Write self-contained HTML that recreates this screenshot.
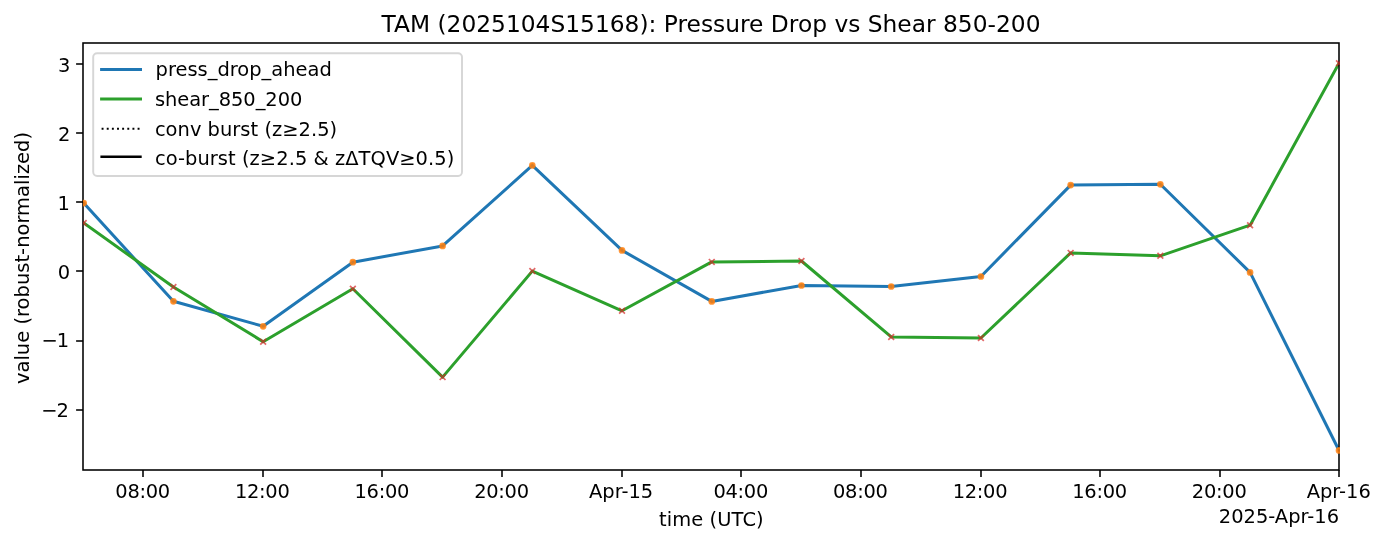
<!DOCTYPE html>
<html><head><meta charset="utf-8"><title>TAM chart</title>
<style>
html,body{margin:0;padding:0;background:#fff;}
body{width:1385px;height:543px;overflow:hidden;}
svg{display:block;}
text{font-family:"DejaVu Sans","Liberation Sans",sans-serif;fill:#000;}
.t{font-size:19.44px;}
.tt{font-size:23.33px;}
.xt{letter-spacing:-0.28px;}
</style></head><body>
<svg width="1385" height="543" viewBox="0 0 1385 543">
<rect width="1385" height="543" fill="#fff"/>
<defs><clipPath id="ax"><rect x="82.9" y="42.9" width="1257.0" height="427.1"/></clipPath></defs>
<g clip-path="url(#ax)">
<polyline points="83.70,203.10 173.42,301.30 263.14,326.30 352.86,262.20 442.59,245.90 532.31,165.40 622.03,250.40 711.75,301.40 801.47,285.50 891.19,286.50 980.91,276.50 1070.64,185.10 1160.36,184.30 1250.08,272.40 1339.00,450.40" fill="none" stroke="#1f77b4" stroke-width="3.0" stroke-linejoin="round" stroke-linecap="square"/>
<polyline points="83.70,223.00 173.42,287.00 263.14,341.70 352.86,288.70 442.59,377.10 532.31,271.10 622.03,310.80 711.75,261.90 801.47,261.00 891.19,336.95 980.91,338.00 1070.64,252.90 1160.36,255.80 1250.08,225.20 1339.00,63.20" fill="none" stroke="#2ca02c" stroke-width="3.0" stroke-linejoin="round" stroke-linecap="square"/>
</g>
<g stroke="#000" stroke-width="1.56" fill="none">
<path d="M76.10 410H83.0"/>
<path d="M76.10 341H83.0"/>
<path d="M76.10 271H83.0"/>
<path d="M76.10 202H83.0"/>
<path d="M76.10 133H83.0"/>
<path d="M76.10 64H83.0"/>
<path d="M143 470.0V476.90"/>
<path d="M263 470.0V476.90"/>
<path d="M382 470.0V476.90"/>
<path d="M502 470.0V476.90"/>
<path d="M622 470.0V476.90"/>
<path d="M741 470.0V476.90"/>
<path d="M861 470.0V476.90"/>
<path d="M981 470.0V476.90"/>
<path d="M1100 470.0V476.90"/>
<path d="M1220 470.0V476.90"/>
<path d="M1339 470.0V476.90"/>
</g>
<rect x="83.0" y="43.0" width="1256.0" height="427.0" fill="none" stroke="#000" stroke-width="1.56"/>
<g clip-path="url(#ax)">
<circle cx="83.70" cy="203.10" r="2.4" fill="#ff7f0e" fill-opacity="0.8" stroke="#ff7f0e" stroke-opacity="0.8" stroke-width="1.9"/>
<circle cx="173.42" cy="301.30" r="2.4" fill="#ff7f0e" fill-opacity="0.8" stroke="#ff7f0e" stroke-opacity="0.8" stroke-width="1.9"/>
<circle cx="263.14" cy="326.30" r="2.4" fill="#ff7f0e" fill-opacity="0.8" stroke="#ff7f0e" stroke-opacity="0.8" stroke-width="1.9"/>
<circle cx="352.86" cy="262.20" r="2.4" fill="#ff7f0e" fill-opacity="0.8" stroke="#ff7f0e" stroke-opacity="0.8" stroke-width="1.9"/>
<circle cx="442.59" cy="245.90" r="2.4" fill="#ff7f0e" fill-opacity="0.8" stroke="#ff7f0e" stroke-opacity="0.8" stroke-width="1.9"/>
<circle cx="532.31" cy="165.40" r="2.4" fill="#ff7f0e" fill-opacity="0.8" stroke="#ff7f0e" stroke-opacity="0.8" stroke-width="1.9"/>
<circle cx="622.03" cy="250.40" r="2.4" fill="#ff7f0e" fill-opacity="0.8" stroke="#ff7f0e" stroke-opacity="0.8" stroke-width="1.9"/>
<circle cx="711.75" cy="301.40" r="2.4" fill="#ff7f0e" fill-opacity="0.8" stroke="#ff7f0e" stroke-opacity="0.8" stroke-width="1.9"/>
<circle cx="801.47" cy="285.50" r="2.4" fill="#ff7f0e" fill-opacity="0.8" stroke="#ff7f0e" stroke-opacity="0.8" stroke-width="1.9"/>
<circle cx="891.19" cy="286.50" r="2.4" fill="#ff7f0e" fill-opacity="0.8" stroke="#ff7f0e" stroke-opacity="0.8" stroke-width="1.9"/>
<circle cx="980.91" cy="276.50" r="2.4" fill="#ff7f0e" fill-opacity="0.8" stroke="#ff7f0e" stroke-opacity="0.8" stroke-width="1.9"/>
<circle cx="1070.64" cy="185.10" r="2.4" fill="#ff7f0e" fill-opacity="0.8" stroke="#ff7f0e" stroke-opacity="0.8" stroke-width="1.9"/>
<circle cx="1160.36" cy="184.30" r="2.4" fill="#ff7f0e" fill-opacity="0.8" stroke="#ff7f0e" stroke-opacity="0.8" stroke-width="1.9"/>
<circle cx="1250.08" cy="272.40" r="2.4" fill="#ff7f0e" fill-opacity="0.8" stroke="#ff7f0e" stroke-opacity="0.8" stroke-width="1.9"/>
<circle cx="1339.00" cy="450.40" r="2.4" fill="#ff7f0e" fill-opacity="0.8" stroke="#ff7f0e" stroke-opacity="0.8" stroke-width="1.9"/>
<path d="M80.80 220.10L86.60 225.90M80.80 225.90L86.60 220.10" stroke="#d62728" stroke-opacity="0.7" stroke-width="1.7" fill="none"/>
<path d="M170.52 284.10L176.32 289.90M170.52 289.90L176.32 284.10" stroke="#d62728" stroke-opacity="0.7" stroke-width="1.7" fill="none"/>
<path d="M260.24 338.80L266.04 344.60M260.24 344.60L266.04 338.80" stroke="#d62728" stroke-opacity="0.7" stroke-width="1.7" fill="none"/>
<path d="M349.96 285.80L355.76 291.60M349.96 291.60L355.76 285.80" stroke="#d62728" stroke-opacity="0.7" stroke-width="1.7" fill="none"/>
<path d="M439.69 374.20L445.49 380.00M439.69 380.00L445.49 374.20" stroke="#d62728" stroke-opacity="0.7" stroke-width="1.7" fill="none"/>
<path d="M529.41 268.20L535.21 274.00M529.41 274.00L535.21 268.20" stroke="#d62728" stroke-opacity="0.7" stroke-width="1.7" fill="none"/>
<path d="M619.13 307.90L624.93 313.70M619.13 313.70L624.93 307.90" stroke="#d62728" stroke-opacity="0.7" stroke-width="1.7" fill="none"/>
<path d="M708.85 259.00L714.65 264.80M708.85 264.80L714.65 259.00" stroke="#d62728" stroke-opacity="0.7" stroke-width="1.7" fill="none"/>
<path d="M798.57 258.10L804.37 263.90M798.57 263.90L804.37 258.10" stroke="#d62728" stroke-opacity="0.7" stroke-width="1.7" fill="none"/>
<path d="M888.29 334.05L894.09 339.85M888.29 339.85L894.09 334.05" stroke="#d62728" stroke-opacity="0.7" stroke-width="1.7" fill="none"/>
<path d="M978.01 335.10L983.81 340.90M978.01 340.90L983.81 335.10" stroke="#d62728" stroke-opacity="0.7" stroke-width="1.7" fill="none"/>
<path d="M1067.74 250.00L1073.54 255.80M1067.74 255.80L1073.54 250.00" stroke="#d62728" stroke-opacity="0.7" stroke-width="1.7" fill="none"/>
<path d="M1157.46 252.90L1163.26 258.70M1157.46 258.70L1163.26 252.90" stroke="#d62728" stroke-opacity="0.7" stroke-width="1.7" fill="none"/>
<path d="M1247.18 222.30L1252.98 228.10M1247.18 228.10L1252.98 222.30" stroke="#d62728" stroke-opacity="0.7" stroke-width="1.7" fill="none"/>
<path d="M1336.10 60.30L1341.90 66.10M1336.10 66.10L1341.90 60.30" stroke="#d62728" stroke-opacity="0.7" stroke-width="1.7" fill="none"/>
</g>
<text class="t" x="67.90" y="416.85" text-anchor="end" style="letter-spacing:-1px">−2</text>
<text class="t" x="68.10" y="347.28" text-anchor="end" style="letter-spacing:-1px">−1</text>
<text class="t" x="70.10" y="278.51" text-anchor="end">0</text>
<text class="t" x="69.80" y="209.74" text-anchor="end">1</text>
<text class="t" x="70.40" y="141.17" text-anchor="end">2</text>
<text class="t" x="70.40" y="72.00" text-anchor="end">3</text>
<text class="t xt" x="142.61" y="498.10" text-anchor="middle">08:00</text>
<text class="t xt" x="262.23" y="498.10" text-anchor="middle">12:00</text>
<text class="t xt" x="381.85" y="498.10" text-anchor="middle">16:00</text>
<text class="t xt" x="501.47" y="498.10" text-anchor="middle">20:00</text>
<text class="t" x="621.09" y="498.10" text-anchor="middle">Apr-15</text>
<text class="t xt" x="740.70" y="498.10" text-anchor="middle">04:00</text>
<text class="t xt" x="860.32" y="498.10" text-anchor="middle">08:00</text>
<text class="t xt" x="979.94" y="498.10" text-anchor="middle">12:00</text>
<text class="t xt" x="1099.56" y="498.10" text-anchor="middle">16:00</text>
<text class="t xt" x="1219.18" y="498.10" text-anchor="middle">20:00</text>
<text class="t" x="1338.80" y="498.10" text-anchor="middle">Apr-16</text>
<text class="t" x="711.40" y="525.5" text-anchor="middle" style="letter-spacing:0.1px">time (UTC)</text>
<text class="t" x="1339.0" y="523" text-anchor="end">2025-Apr-16</text>
<text class="t" transform="translate(29.3 258.0) rotate(-90)" text-anchor="middle" style="letter-spacing:0.035px">value (robust-normalized)</text>
<text class="tt" x="711.00" y="32" text-anchor="middle">TAM (2025104S15168): Pressure Drop vs Shear 850-200</text>
<rect x="93.2" y="53.2" width="368.8" height="122.8" rx="3.9" ry="3.9" fill="#fff" fill-opacity="0.8" stroke="#ccc" stroke-opacity="0.8" stroke-width="1.94"/>
<path d="M101.6 69.4H140.5" stroke="#1f77b4" stroke-width="3.0" stroke-linecap="square"/>
<path d="M101.6 99.1H140.5" stroke="#2ca02c" stroke-width="3.0" stroke-linecap="square"/>
<path d="M101.6 128.7H140.5" stroke="#000" stroke-width="1.94" stroke-dasharray="1.94 3.2"/>
<path d="M101.6 156.8H140.5" stroke="#000" stroke-width="2.4" stroke-linecap="square"/>
<text class="t" x="155.6" y="76.4" style="letter-spacing:0px">press_drop_ahead</text>
<text class="t" x="154.9" y="105.6" style="letter-spacing:-0.04px">shear_850_200</text>
<text class="t" x="154.9" y="135.5" style="letter-spacing:0.03px">conv burst (z≥2.5)</text>
<text class="t" x="154.9" y="165.3" style="letter-spacing:0.06px">co-burst (z≥2.5 &amp; zΔTQV≥0.5)</text>
</svg></body></html>
